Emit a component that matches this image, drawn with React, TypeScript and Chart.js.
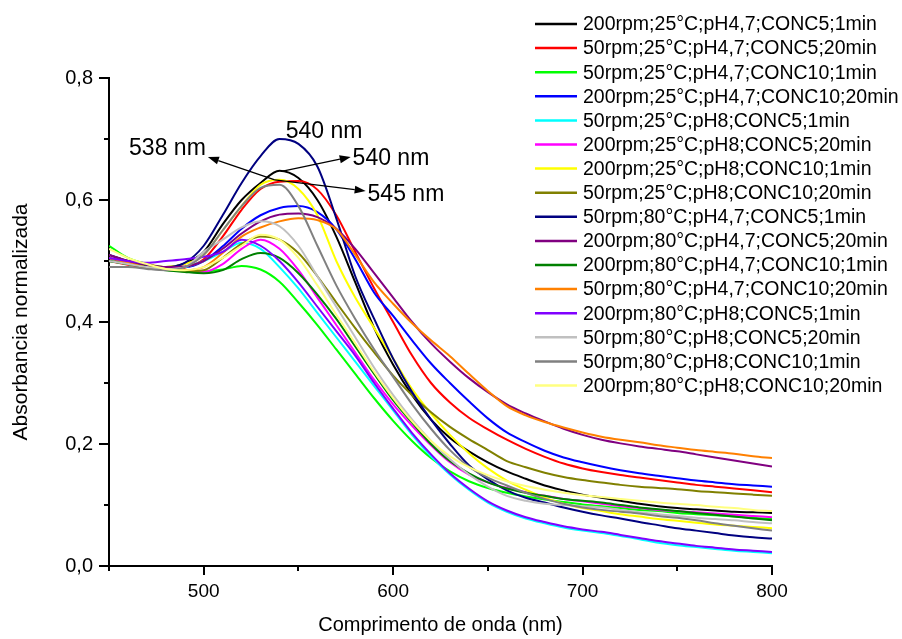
import React, { useEffect, useRef } from "react";
import { Chart, registerables } from "chart.js";

Chart.register(...registerables);

const FONT = "'Liberation Sans', Arial, Helvetica, sans-serif";

// Wavelength grid (nm)
const WAVELENGTH = [
  450, 460, 470, 480, 490, 500, 510, 520, 530, 540, 550, 560, 570, 580, 590, 600, 610, 620,
  630, 640, 650, 660, 670, 680, 690, 700, 710, 720, 730, 740, 750, 760, 770, 780, 790, 800,
];

// Normalised absorbance for each synthesis condition
const S_200_25_47_C5_1 = [
  0.505, 0.497, 0.492, 0.49, 0.496, 0.515, 0.56, 0.6, 0.628, 0.648, 0.636, 0.6, 0.54, 0.465, 0.39, 0.33, 0.28, 0.24,
  0.21, 0.188, 0.17, 0.155, 0.143, 0.132, 0.124, 0.117, 0.112, 0.107, 0.102, 0.098, 0.095, 0.093, 0.091, 0.089, 0.088, 0.087,
];
const S_50_25_47_C5_20 = [
  0.5, 0.494, 0.489, 0.486, 0.489, 0.503, 0.54, 0.584, 0.618, 0.63, 0.631, 0.617, 0.575, 0.515, 0.455, 0.4, 0.345, 0.3,
  0.268, 0.243, 0.224, 0.207, 0.192, 0.179, 0.168, 0.16, 0.154, 0.149, 0.145, 0.141, 0.137, 0.133, 0.13, 0.127, 0.124, 0.121,
];
const S_50_25_47_C10_1 = [
  0.525, 0.505, 0.495, 0.488, 0.485, 0.483, 0.486, 0.492, 0.486, 0.466, 0.432, 0.395, 0.355, 0.315, 0.275, 0.238, 0.205, 0.177,
  0.155, 0.139, 0.128, 0.12, 0.114, 0.109, 0.105, 0.101, 0.098, 0.095, 0.092, 0.09, 0.087, 0.085, 0.083, 0.081, 0.079, 0.077,
];
const S_200_25_47_C10_20 = [
  0.505, 0.498, 0.493, 0.49, 0.49, 0.5, 0.524, 0.553, 0.575, 0.587, 0.59, 0.58, 0.552, 0.503, 0.448, 0.41, 0.37, 0.332,
  0.3, 0.27, 0.242, 0.219, 0.203, 0.189, 0.178, 0.17, 0.163, 0.157, 0.152, 0.148, 0.144, 0.14, 0.137, 0.134, 0.132, 0.13,
];
const S_50_25_8_C5_1 = [
  0.5, 0.495, 0.49, 0.487, 0.49, 0.5, 0.515, 0.53, 0.52, 0.49, 0.455, 0.415, 0.375, 0.335, 0.295, 0.255, 0.215, 0.18,
  0.15, 0.125, 0.104, 0.089, 0.078, 0.07, 0.063, 0.058, 0.054, 0.049, 0.044, 0.038, 0.034, 0.031, 0.028, 0.025, 0.023, 0.021,
];
const S_200_25_8_C5_20 = [
  0.505, 0.5, 0.495, 0.488, 0.483, 0.482, 0.495, 0.52, 0.535, 0.52, 0.485, 0.44, 0.395, 0.35, 0.305, 0.265, 0.23, 0.198,
  0.17, 0.15, 0.137, 0.128, 0.121, 0.115, 0.11, 0.106, 0.102, 0.098, 0.095, 0.092, 0.09, 0.088, 0.086, 0.084, 0.082, 0.08,
];
const S_200_25_8_C10_1 = [
  0.51, 0.5, 0.495, 0.49, 0.495, 0.51, 0.55, 0.59, 0.625, 0.633, 0.618, 0.575, 0.5, 0.44, 0.39, 0.34, 0.29, 0.25,
  0.215, 0.185, 0.16, 0.14, 0.125, 0.112, 0.102, 0.095, 0.09, 0.085, 0.081, 0.077, 0.074, 0.071, 0.068, 0.066, 0.064, 0.062,
];
const S_50_25_8_C10_20 = [
  0.5, 0.495, 0.49, 0.487, 0.483, 0.485, 0.505, 0.528, 0.54, 0.535, 0.513, 0.475, 0.432, 0.39, 0.35, 0.312, 0.28, 0.252,
  0.228, 0.208, 0.19, 0.172, 0.162, 0.153, 0.146, 0.141, 0.137, 0.133, 0.13, 0.128, 0.126, 0.123, 0.121, 0.119, 0.117, 0.115,
];
const S_50_80_47_C5_1 = [
  0.51, 0.5, 0.494, 0.49, 0.497, 0.525, 0.575, 0.628, 0.672, 0.7, 0.692, 0.655, 0.57, 0.475, 0.405, 0.34, 0.285, 0.24,
  0.2, 0.165, 0.142, 0.124, 0.112, 0.104, 0.096, 0.089, 0.083, 0.078, 0.072, 0.067, 0.062, 0.058, 0.054, 0.05, 0.047, 0.045,
];
const S_200_80_47_C5_20 = [
  0.51, 0.5, 0.494, 0.49, 0.491, 0.5, 0.52, 0.545, 0.565, 0.576, 0.578, 0.572, 0.553, 0.52, 0.48, 0.44, 0.4, 0.365,
  0.335, 0.308, 0.285, 0.265, 0.25, 0.237, 0.225, 0.215, 0.207, 0.201, 0.196, 0.192, 0.188, 0.183, 0.178, 0.173, 0.168, 0.163,
];
const S_200_80_47_C10_1 = [
  0.5, 0.495, 0.49, 0.485, 0.482, 0.48, 0.485, 0.503, 0.513, 0.505, 0.48, 0.445, 0.405, 0.36, 0.315, 0.272, 0.235, 0.2,
  0.172, 0.152, 0.137, 0.127, 0.12, 0.115, 0.11, 0.107, 0.104, 0.1, 0.096, 0.093, 0.09, 0.087, 0.084, 0.081, 0.078, 0.075,
];
const S_50_80_47_C10_20 = [
  0.505, 0.497, 0.49, 0.487, 0.485, 0.49, 0.513, 0.54, 0.555, 0.565, 0.57, 0.567, 0.552, 0.51, 0.465, 0.43, 0.398, 0.37,
  0.344, 0.315, 0.287, 0.262, 0.247, 0.236, 0.227, 0.219, 0.212, 0.207, 0.203, 0.198, 0.194, 0.19, 0.187, 0.184, 0.18, 0.177,
];
const S_200_80_8_C5_1 = [
  0.505, 0.5, 0.497, 0.5, 0.503, 0.507, 0.515, 0.535, 0.525, 0.5, 0.465, 0.425, 0.385, 0.345, 0.3, 0.258, 0.218, 0.183,
  0.152, 0.127, 0.106, 0.091, 0.08, 0.072, 0.065, 0.06, 0.056, 0.051, 0.046, 0.041, 0.037, 0.033, 0.03, 0.027, 0.025, 0.023,
];
const S_50_80_8_C5_20 = [
  0.5, 0.495, 0.49, 0.487, 0.49, 0.515, 0.535, 0.555, 0.565, 0.557, 0.525, 0.475, 0.425, 0.375, 0.325, 0.28, 0.24, 0.205,
  0.175, 0.15, 0.13, 0.115, 0.107, 0.102, 0.1, 0.098, 0.096, 0.092, 0.088, 0.085, 0.082, 0.079, 0.077, 0.075, 0.072, 0.07,
];
const S_50_80_8_C10_1 = [
  0.49, 0.49, 0.487, 0.485, 0.49, 0.51, 0.55, 0.59, 0.62, 0.625, 0.59, 0.525, 0.46, 0.405, 0.355, 0.31, 0.265, 0.225,
  0.19, 0.163, 0.145, 0.132, 0.12, 0.11, 0.102, 0.096, 0.092, 0.089, 0.086, 0.082, 0.079, 0.075, 0.07, 0.066, 0.062, 0.058,
];
const S_200_80_8_C10_20 = [
  0.52, 0.505, 0.495, 0.487, 0.485, 0.49, 0.505, 0.525, 0.543, 0.535, 0.505, 0.46, 0.412, 0.365, 0.318, 0.275, 0.237, 0.205,
  0.18, 0.162, 0.149, 0.139, 0.131, 0.125, 0.12, 0.116, 0.113, 0.11, 0.107, 0.104, 0.102, 0.1, 0.097, 0.095, 0.092, 0.09,
];

const SERIES_LABELS = [
  "200rpm;25°C;pH4,7;CONC5;1min",
  "50rpm;25°C;pH4,7;CONC5;20min",
  "50rpm;25°C;pH4,7;CONC10;1min",
  "200rpm;25°C;pH4,7;CONC10;20min",
  "50rpm;25°C;pH8;CONC5;1min",
  "200rpm;25°C;pH8;CONC5;20min",
  "200rpm;25°C;pH8;CONC10;1min",
  "50rpm;25°C;pH8;CONC10;20min",
  "50rpm;80°C;pH4,7;CONC5;1min",
  "200rpm;80°C;pH4,7;CONC5;20min",
  "200rpm;80°C;pH4,7;CONC10;1min",
  "50rpm;80°C;pH4,7;CONC10;20min",
  "200rpm;80°C;pH8;CONC5;1min",
  "50rpm;80°C;pH8;CONC5;20min",
  "50rpm;80°C;pH8;CONC10;1min",
  "200rpm;80°C;pH8;CONC10;20min",
];

const SERIES_VALUES = [
  S_200_25_47_C5_1, S_50_25_47_C5_20, S_50_25_47_C10_1, S_200_25_47_C10_20,
  S_50_25_8_C5_1, S_200_25_8_C5_20, S_200_25_8_C10_1, S_50_25_8_C10_20,
  S_50_80_47_C5_1, S_200_80_47_C5_20, S_200_80_47_C10_1, S_50_80_47_C10_20,
  S_200_80_8_C5_1, S_50_80_8_C5_20, S_50_80_8_C10_1, S_200_80_8_C10_20,
];

const SERIES_COLORS = [
  "#000000", "#FF0000", "#00FF00", "#0000FF",
  "#00FFFF", "#FF00FF", "#FFFF00", "#808000",
  "#000080", "#800080", "#008000", "#FF8000",
  "#8000FF", "#C0C0C0", "#808080", "#FFFF80",
];

// Axis ticks
const X_MAJOR = [500, 600, 700, 800];
const X_ALL = [450, 500, 550, 600, 650, 700, 750, 800];
const Y_MAJOR = [0, 0.2, 0.4, 0.6, 0.8];
const Y_ALL = [0, 0.1, 0.2, 0.3, 0.4, 0.5, 0.6, 0.7, 0.8];

// Peak annotations, in data units (nm, absorbance)
const PEAK_NOTES = [
  { text: "540 nm", at: [543.3, 0.7115], align: "left" },
  { text: "538 nm", at: [501.1, 0.684], align: "right", from: [537.5, 0.633], to: [502.2, 0.6705] },
  { text: "540 nm", at: [578.6, 0.667], align: "left", from: [541.7, 0.6475], to: [577.6, 0.6705] },
  { text: "545 nm", at: [586.5, 0.608], align: "left", from: [537.5, 0.633], to: [585.5, 0.6148] },
];

function arrow(ctx: CanvasRenderingContext2D, x0: number, y0: number, x1: number, y1: number) {
  const ang = Math.atan2(y1 - y0, x1 - x0);
  const head = 11;
  const half = 4;
  const bx = x1 - head * Math.cos(ang);
  const by = y1 - head * Math.sin(ang);
  ctx.beginPath();
  ctx.moveTo(x0, y0);
  ctx.lineTo(bx, by);
  ctx.stroke();
  ctx.beginPath();
  ctx.moveTo(x1, y1);
  ctx.lineTo(bx + half * Math.sin(ang), by - half * Math.cos(ang));
  ctx.lineTo(bx - half * Math.sin(ang), by + half * Math.cos(ang));
  ctx.closePath();
  ctx.fill();
}

const decorations = {
  id: "spectraDecorations",
  afterDraw(chart: any) {
    const { ctx, chartArea, scales } = chart;
    const xs = scales.x;
    const ys = scales.y;
    ctx.save();

    // tick marks (major and minor)
    ctx.strokeStyle = "#000";
    ctx.lineWidth = 2;
    X_ALL.forEach((v) => {
      const px = Math.round(xs.getPixelForValue(v));
      const len = X_MAJOR.includes(v) ? 9 : 5;
      ctx.beginPath();
      ctx.moveTo(px, chartArea.bottom);
      ctx.lineTo(px, chartArea.bottom + len);
      ctx.stroke();
    });
    Y_ALL.forEach((v) => {
      const py = Math.round(ys.getPixelForValue(v));
      const len = Y_MAJOR.some((m) => Math.abs(m - v) < 1e-9) ? 10 : 5;
      ctx.beginPath();
      ctx.moveTo(chartArea.left, py);
      ctx.lineTo(chartArea.left - len, py);
      ctx.stroke();
    });

    // peak annotations
    ctx.fillStyle = "#000";
    ctx.strokeStyle = "#000";
    ctx.lineWidth = 1.3;
    PEAK_NOTES.forEach((n: any) => {
      if (n.from) {
        arrow(
          ctx,
          xs.getPixelForValue(n.from[0]), ys.getPixelForValue(n.from[1]),
          xs.getPixelForValue(n.to[0]), ys.getPixelForValue(n.to[1])
        );
      }
      ctx.font = `23px ${FONT}`;
      ctx.textAlign = n.align;
      ctx.textBaseline = "middle";
      ctx.fillText(n.text, xs.getPixelForValue(n.at[0]), ys.getPixelForValue(n.at[1]));
    });

    // legend
    ctx.font = `19.5px ${FONT}`;
    ctx.textAlign = "left";
    ctx.textBaseline = "middle";
    chart.data.datasets.forEach((ds: any, i: number) => {
      const y = 24 + i * 24.1;
      ctx.strokeStyle = ds.borderColor;
      ctx.lineWidth = 2.5;
      ctx.beginPath();
      ctx.moveTo(535, y);
      ctx.lineTo(577, y);
      ctx.stroke();
      ctx.fillStyle = "#000";
      ctx.fillText(ds.label, 583, y + 1);
    });

    ctx.restore();
  },
};

export default function App() {
  const canvasRef = useRef<HTMLCanvasElement | null>(null);

  useEffect(() => {
    const canvas = canvasRef.current;
    if (!canvas) return;
    Chart.defaults.font.family = FONT;
    Chart.defaults.color = "#000";

    const datasets = SERIES_VALUES.map((vals, i) => ({
      label: SERIES_LABELS[i],
      data: vals.map((v, k) => ({ x: WAVELENGTH[k], y: v })),
      borderColor: SERIES_COLORS[i],
      backgroundColor: SERIES_COLORS[i],
      borderWidth: 2,
      pointRadius: 0,
      cubicInterpolationMode: "monotone" as const,
      order: SERIES_VALUES.length - 1 - i,
    }));

    const chart = new Chart(canvas, {
      type: "line",
      data: { datasets },
      options: {
        animation: false,
        responsive: false,
        devicePixelRatio: 1,
        layout: { padding: { left: 0, right: 130, top: 78, bottom: 0 } },
        plugins: { legend: { display: false }, tooltip: { enabled: false } },
        scales: {
          x: {
            type: "linear",
            min: 450,
            max: 800,
            afterBuildTicks: (scale: any) => {
              scale.ticks = X_MAJOR.map((v) => ({ value: v }));
            },
            afterFit: (scale: any) => {
              scale.height = 73;
            },
            grid: { display: false, drawTicks: false },
            border: { display: true, color: "#000", width: 2 },
            ticks: { font: { size: 19 }, color: "#000", padding: 14, maxRotation: 0 },
            title: {
              display: true,
              text: "Comprimento de onda (nm)",
              font: { size: 20 },
              color: "#000",
              padding: { top: 0, bottom: 2 },
            },
          },
          y: {
            type: "linear",
            min: 0,
            max: 0.8,
            afterBuildTicks: (scale: any) => {
              scale.ticks = Y_MAJOR.map((v) => ({ value: v }));
            },
            afterFit: (scale: any) => {
              scale.width = 109;
            },
            grid: { display: false, drawTicks: false },
            border: { display: true, color: "#000", width: 2 },
            ticks: {
              font: { size: 20 },
              color: "#000",
              padding: 16,
              callback: (v: any) => Number(v).toFixed(1).replace(".", ","),
            },
            title: {
              display: true,
              text: "Absorbancia normalizada",
              font: { size: 21 },
              color: "#000",
              padding: { top: 9, bottom: 0 },
            },
          },
        },
      },
      plugins: [decorations],
    });

    return () => chart.destroy();
  }, []);

  return (
    <div style={{ position: "fixed", left: 0, top: 0, width: 902, height: 639, background: "#fff" }}>
      <canvas ref={canvasRef} width={902} height={639} style={{ display: "block" }} />
    </div>
  );
}
